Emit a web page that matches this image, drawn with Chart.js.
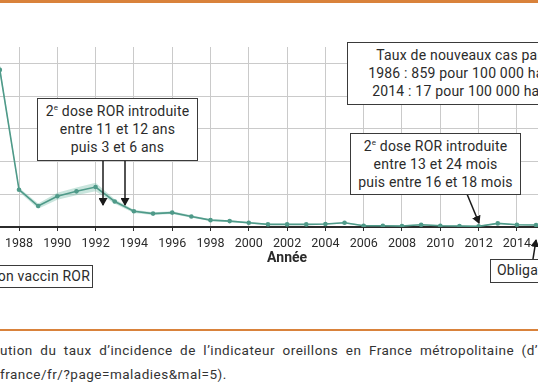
<!DOCTYPE html>
<html>
<head>
<meta charset="utf-8">
<script src="https://cdn.jsdelivr.net/npm/chart.js@4/dist/chart.umd.min.js"></script>
<style>
  html, body { margin:0; padding:0; background:#fff; }
  body { width:538px; height:384px; overflow:hidden; position:relative; font-family:Roboto, sans-serif; color:#2b2b2b; }
  .trait { position:absolute; left:0; width:538px; background:#d9823b; }
  #zone { position:absolute; left:-40px; top:0; width:680px; height:300px; }
  .boite { position:absolute; background:#fff; border:1.5px solid #3a3a3a; box-sizing:border-box;
           font-size:14px; letter-spacing:0.2px; line-height:18px; text-align:center; white-space:nowrap; color:#2b2b2b; }
  #fleches { position:absolute; left:0; top:0; }
  .legende { position:absolute; left:0; width:538px; font-size:13.5px; letter-spacing:0.5px; color:#333; white-space:nowrap; }
</style>
</head>
<body>
<div class="trait" style="top:0;height:3px"></div>

<div id="zone"><canvas id="graphe" width="680" height="300"></canvas></div>

<svg id="fleches" width="538" height="300">
  <defs>
    <marker id="tete" markerWidth="8" markerHeight="9" refX="7" refY="4.5" orient="auto" markerUnits="userSpaceOnUse">
      <path d="M0,0 L8,4.5 L0,9 z" fill="#1a1a1a"/>
    </marker>
  </defs>
  <line x1="103" y1="160" x2="103" y2="205" stroke="#1a1a1a" stroke-width="1.5" marker-end="url(#tete)"/>
  <line x1="125" y1="160" x2="125" y2="205" stroke="#1a1a1a" stroke-width="1.5" marker-end="url(#tete)"/>
  <line x1="467" y1="194" x2="479" y2="223" stroke="#1a1a1a" stroke-width="1.5" marker-end="url(#tete)"/>
  <line x1="533" y1="259" x2="536" y2="240" stroke="#1a1a1a" stroke-width="1.5" marker-end="url(#tete)"/>
</svg>

<div class="boite" style="left:347px;top:42px;width:262px;height:63px;padding-top:3px">
  <span style="position:relative;left:-9px">Taux de nouveaux cas par an</span><br>1986 : 859 pour 100 000 habitants<br>2014 : 17 pour 100 000 habitants
</div>
<div class="boite" style="left:37px;top:98px;width:161px;height:63px;padding-top:3px">
  2<sup style="font-size:8px;vertical-align:6px;line-height:0">e</sup> dose ROR introduite<br>entre 11 et 12 ans<br>puis 3 et 6 ans
</div>
<div class="boite" style="left:350px;top:133px;width:171px;height:62px;padding-top:3px">
  2<sup style="font-size:8px;vertical-align:6px;line-height:0">e</sup> dose ROR introduite<br>entre 13 et 24 mois<br>puis entre 16 et 18 mois
</div>
<div class="boite" style="left:-10px;top:265px;width:103px;height:23px;line-height:20px;text-align:right;padding-right:2px">
  on vaccin ROR
</div>
<div class="boite" style="left:490px;top:259px;width:120px;height:24px;line-height:21px;text-align:left;padding-left:6px">
  Obligation
</div>

<div class="trait" style="top:329px;height:2px"></div>
<div class="legende" style="top:342px;text-align:justify;text-align-last:justify">ution du taux d’incidence de l’indicateur oreillons en France métropolitaine (d’</div>
<div class="legende" style="top:366px">france/fr/?page=maladies&amp;mal=5).</div>

<script>
var annees = [1986,1987,1988,1989,1990,1991,1992,1993,1994,1995,1996,1997,1998,1999,2000,
              2001,2002,2003,2004,2005,2006,2007,2008,2009,2010,2011,2012,2013,2014,2015];
var taux   = [859,480,114,64,94,109,122,78,48,41,44,32,21,18,13,
              8,8,8,9,13,4,4,3,7,4,3,2,11,7,6];
var basse  = [840,468,108,56,83,97,109,71,43,37,40,28,18,15,10,
              6,6,6,7,11,2,2,1,5,2,1,0,9,5,4];
var haute  = [878,492,120,72,105,121,135,85,53,45,48,36,24,21,16,
              10,10,10,11,15,6,6,5,9,6,5,4,13,9,8];
var anneeMin = 1986, anneeMax = 2018;
var graduations = [1986,1988,1990,1992,1994,1996,1998,2000,2002,2004,2006,2008,2010,2012,2014,2016,2018];

function points(valeurs) {
    var res = [];
    for (var i=0;i<annees.length;i++) {
        res.push({x: annees[i], y: valeurs[i]});
    }
    return res;
}

var vert = '#4f9a89';
var bande = 'rgba(120,190,170,0.4)';

var ctx = document.getElementById('graphe').getContext('2d');
var graphe = new Chart(ctx, {
    type: 'line',
    data: {
        datasets: [{
            label: 'Taux',
            data: points(taux),
            borderColor: vert,
            backgroundColor: vert,
            borderWidth: 1.6,
            pointRadius: 2.3,
            pointBorderWidth: 0,
            tension: 0,
            order: 0
        }, {
            label: 'haute',
            data: points(haute),
            borderColor: 'rgba(0,0,0,0)',
            backgroundColor: bande,
            pointRadius: 0,
            borderWidth: 0,
            fill: '+1',
            order: 1
        }, {
            label: 'basse',
            data: points(basse),
            borderColor: 'rgba(0,0,0,0)',
            pointRadius: 0,
            borderWidth: 0,
            fill: false,
            order: 2
        }]
    },
    options: {
        responsive: false,
        animation: false,
        devicePixelRatio: 1,
        layout: { padding: { left: 20.7, right: 46.5, top: 47, bottom: 0 } },
        plugins: { legend: { display: false }, tooltip: { enabled: false } },
        scales: {
            x: {
                type: 'linear',
                min: anneeMin,
                max: anneeMax,
                afterBuildTicks: function(s) { s.ticks = graduations.map(function(v){ return {value: v}; }); },
                afterFit: function(s) { s.height = 73; },
                ticks: {
                    color: '#2b2b2b',
                    font: { family: 'Roboto', size: 12.5 },
                    padding: 5,
                    maxRotation: 0,
                    autoSkip: false,
                    callback: function(v) { return String(v); }
                },
                grid: { color: '#cacaca', lineWidth: 1, tickColor: '#2b2b2b', tickLength: 4 },
                border: { color: '#2b2b2b', width: 2 },
                title: {
                    display: true,
                    text: 'Année',
                    color: '#2b2b2b',
                    font: { family: 'Roboto', size: 14, weight: 'bold' },
                    padding: { top: 0, bottom: 33 }
                }
            },
            y: {
                min: 0,
                max: 550,
                afterFit: function(s) { s.width = 0; },
                ticks: { display: false, stepSize: 100, includeBounds: false },
                grid: { color: '#cacaca', lineWidth: 1, drawTicks: false },
                border: { display: false }
            }
        }
    }
});
</script>
</body>
</html>
